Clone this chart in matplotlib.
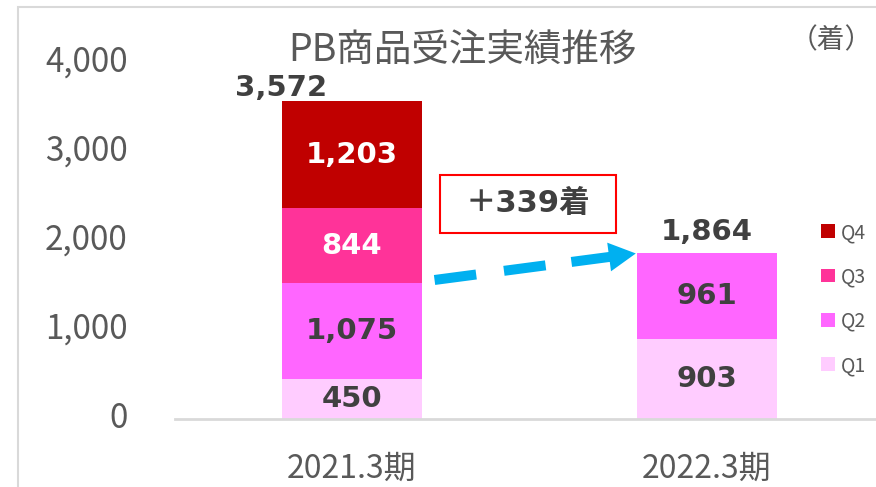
import matplotlib
matplotlib.use("Agg")
import matplotlib.pyplot as plt
from matplotlib.patches import Rectangle
import matplotlib.transforms as mtransforms
import numpy as np

plt.rcParams['font.family'] = ['Noto Sans CJK JP', 'DejaVu Sans']

# ---- data ----
categories = ["2021.3期", "2022.3期"]
quarters = ["Q1", "Q2", "Q3", "Q4"]
q1 = [450, 903]
q2 = [1075, 961]
q3 = [844, 0]
q4 = [1203, 0]
totals = [3572, 1864]
yticks = [0, 1000, 2000, 3000, 4000]
title = "PB商品受注実績推移"
unit_label = "（着）"
diff_label = "＋339着"

colors = ["#FFCCFF", "#FF66FF", "#FF3399", "#C00000"]
label_colors = ["#404040", "#404040", "white", "white"]
dark = "#404040"
gray = "#595959"
numfont = ['DejaVu Sans', 'Noto Sans CJK JP']

W, H = 876, 487
fig = plt.figure(figsize=(W / 100, H / 100), dpi=100)
ax = fig.add_axes([175 / W, (H - 419) / H, (W - 175) / W, (419 - 63) / H])

x = np.arange(len(categories))
width = 0.397
series = [q1, q2, q3, q4]
bottom = np.zeros(len(categories))
handles = []
for vals, col, lc, name in zip(series, colors, label_colors, quarters):
    vals = np.array(vals, dtype=float)
    bars = ax.bar(x, vals, width, bottom=bottom, color=col, label=name, zorder=2)
    handles.append(bars)
    for xi, v, b in zip(x, vals, bottom):
        if v > 0:
            ax.text(xi, b + v / 2, f"{int(v):,}", ha="center", va="center",
                    fontsize=21, fontweight="bold", color=lc, zorder=3,
                    family=numfont)
    bottom += vals

# totals
tot_offsets = [(-0.2, 13), (0.0, 21)]
for xi, t, (dx, dy) in zip(x, totals, tot_offsets):
    ax.annotate(f"{t:,}", xy=(xi + dx, t), xytext=(0, dy), textcoords="offset pixels",
                ha="center", va="center", fontsize=21, fontweight="bold", color=dark,
                family=numfont)

ax.set_xlim(-0.4986, 1.476)
ax.set_ylim(0, 4000)
ax.set_yticks(yticks)
ax.set_yticklabels([f"{v:,}" for v in yticks])
ax.set_xticks(x)
ax.set_xticklabels(categories)
ax.tick_params(axis="y", length=0, pad=34, labelsize=24, labelcolor=gray)
ax.tick_params(axis="x", length=0, pad=24, labelsize=23, labelcolor=gray)
shift = mtransforms.ScaledTranslation(0, 5 / 100, fig.dpi_scale_trans)
for lab in ax.get_yticklabels():
    lab.set_transform(lab.get_transform() + shift)
for s in ["top", "right", "left"]:
    ax.spines[s].set_visible(False)
ax.spines["bottom"].set_color("#D9D9D9")
ax.spines["bottom"].set_linewidth(2)

# arrow (dashed) from bar 1 to bar 2
blue = "#00B0F0"
x0, y0 = x[0] + width / 2 + 0.034, 1562
x1, y1 = x[1] - width / 2 - 0.002, 1860
frac = 0.68
xm, ym = x0 + (x1 - x0) * frac, y0 + (y1 - y0) * frac
ax.plot([x0, xm], [y0, ym], color=blue, lw=7.2, dashes=(4.2, 2.8),
        solid_capstyle="butt", dash_capstyle="butt", zorder=4)
ax.annotate("", xy=(x1, y1), xytext=(xm, ym),
            arrowprops=dict(arrowstyle="simple,head_length=0.97,head_width=1.04,tail_width=0.36",
                            color=blue, lw=0, shrinkA=0, shrinkB=0,
                            mutation_scale=20), zorder=4)

# difference box
bx0, bx1 = 0.248, 0.744
by0, by1 = 2091, 2743
ax.add_patch(Rectangle((bx0, by0), bx1 - bx0, by1 - by0, facecolor="white",
                       edgecolor="#FF0000", lw=1.5, zorder=5))
ax.text((bx0 + bx1) / 2, (by0 + by1) / 2, diff_label, ha="center", va="center",
        fontsize=22, fontweight="bold", color=dark, zorder=6, family=numfont)

# legend
leg = fig.legend(handles[::-1], quarters[::-1], loc="center left",
                 bbox_to_anchor=(821 / W, 1 - 299 / H), frameon=False, borderpad=0,
                 borderaxespad=0, fontsize=14, handlelength=0.72, handleheight=0.72,
                 handletextpad=0.3, labelspacing=1.2, labelcolor=gray)

# title and unit
fig.text(462 / W, 1 - 50 / H, title, ha="center", va="center", fontsize=27, color=gray)
fig.text(831 / W, 1 - 40 / H, unit_label, ha="center", va="center", fontsize=20, color=gray)

# chart border
fig.patches.append(Rectangle((18 / W, -0.1), 2, 1.1 - 7 / H, transform=fig.transFigure,
                             fill=False, edgecolor="#D9D9D9", lw=1.5))

fig.savefig("out.png", dpi=100)
